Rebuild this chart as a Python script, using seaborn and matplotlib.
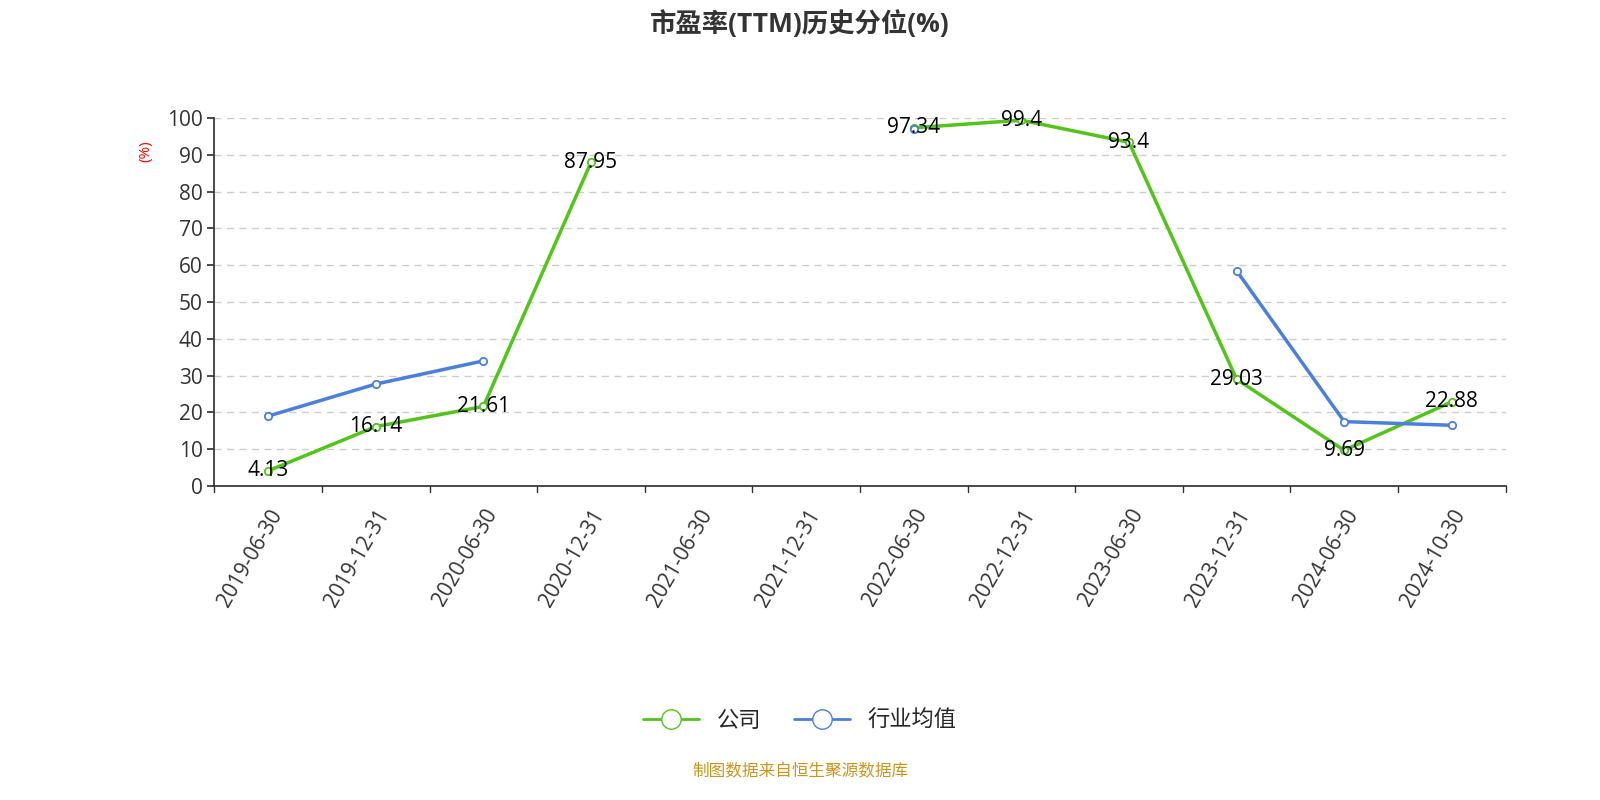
import numpy as np
import pandas as pd
import seaborn as sns
import matplotlib.pyplot as plt
from matplotlib.lines import Line2D

dates = ["2019-06-30", "2019-12-31", "2020-06-30", "2020-12-31", "2021-06-30", "2021-12-31",
         "2022-06-30", "2022-12-31", "2023-06-30", "2023-12-31", "2024-06-30", "2024-10-30"]
company = [4.13, 16.14, 21.61, 87.95, np.nan, np.nan, 97.34, 99.4, 93.4, 29.03, 9.69, 22.88]
industry = [19.0, 27.7, 34.0, np.nan, np.nan, np.nan, 97.0, np.nan, np.nan, 58.5, 17.5, 16.5]

GREEN = "#52c41a"
BLUE = "#4a7fdd"

sns.set_theme(style="white")
plt.rcParams['font.family'] = ['Open Sans', 'Noto Sans CJK SC', 'DejaVu Sans']

df = pd.DataFrame({"date": dates, "company": company, "industry": industry})
x = np.arange(len(dates)) + 0.5

fig = plt.figure(figsize=(16, 8), dpi=100)
ax = fig.add_axes([0.134, 0.3925, 0.807, 0.46])

for col, color in [("company", GREEN), ("industry", BLUE)]:
    ax.plot(x, df[col], color=color, lw=2.5, zorder=3)
    ax.scatter(x, df[col], s=28, facecolor="white", edgecolor=color, linewidth=1.3, zorder=4)

for xi, v in zip(x, df["company"]):
    if not np.isnan(v):
        ax.text(xi, v, f"{v:g}", ha="center", va="center", fontsize=15, color="black", zorder=5)

ax.set_xlim(0, len(dates))
ax.set_ylim(0, 100)
ax.set_yticks(range(0, 101, 10))
ax.set_xticks(x)
ax.set_xticklabels(dates, rotation=60, ha="right", rotation_mode="anchor", fontsize=15, color="#333333")
ax.tick_params(axis="y", labelsize=15, colors="#333333", left=True, length=5)
ax.tick_params(axis="x", bottom=False, pad=8)
for b in range(len(dates) + 1):
    ax.plot([b, b], [0, -1.5], color="#333333", lw=1, clip_on=False)
ax.grid(axis="y", linestyle=(0, (5, 4)), color="#cccccc", lw=1)
for s in ["top", "right"]:
    ax.spines[s].set_visible(False)
ax.spines["left"].set_color("#333333")
ax.spines["bottom"].set_color("#333333")
ax.set_ylabel("(%)", color="red", fontsize=11, labelpad=2)
ax.yaxis.set_label_coords(-0.047, 0.91)

fig.text(0.5, 0.97, "市盈率(TTM)历史分位(%)", ha="center", va="center", fontsize=19,
         fontweight="bold", color="#333333")

handles = [Line2D([0], [0], color=GREEN, lw=2, marker="o", markersize=14, markerfacecolor="white"),
           Line2D([0], [0], color=BLUE, lw=2, marker="o", markersize=14, markerfacecolor="white")]
fig.legend(handles, ["公司", "行业均值"], loc="center", bbox_to_anchor=(0.5, 0.098), ncol=2,
           frameon=False, fontsize=16, handlelength=2.5, columnspacing=1.5)
fig.text(0.5, 0.035, "制图数据来自恒生聚源数据库", ha="center", va="center", fontsize=12, color="#c8961e")

fig.savefig("out.png", dpi=100)
